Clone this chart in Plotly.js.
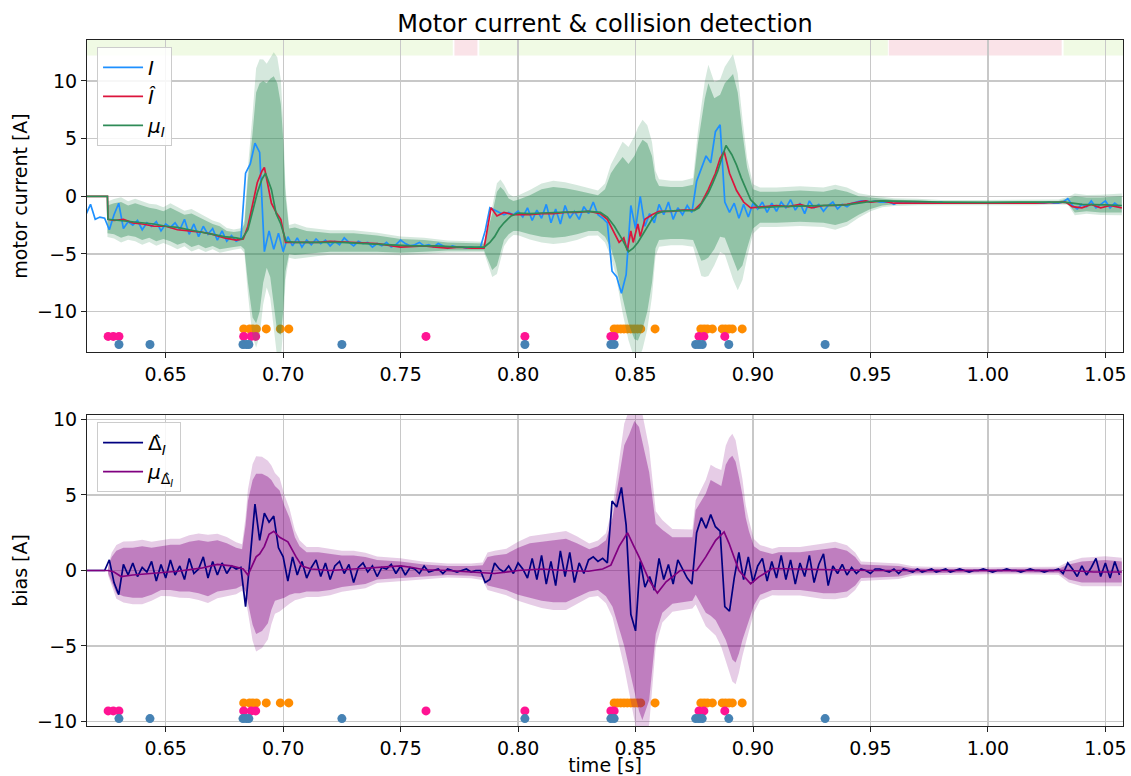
<!DOCTYPE html>
<html><head><meta charset="utf-8">
<script src="https://cdn.plot.ly/plotly-3.0.1.min.js"></script>
<style>html,body{margin:0;padding:0;background:#fff}#chart{width:1131px;height:776px}</style>
</head><body><div id="chart"></div>
<script>
// ---------- sampling of the measured signals (every 2 ms) ----------
const sampleStart = 0.616;
const sampleStep = 0.002;

// measured motor current I [A]
const currentI = [
 -1.6,-0.7,-2.0,-1.8,-1.9,-2.9,-1.6,-0.6,-2.8,-2.2,
 -2.5,-2.1,-2.9,-2.3,-2.6,-2.2,-3.0,-2.4,-2.7,-2.3,
 -2.9,-2.0,-3.3,-2.4,-3.5,-2.6,-3.3,-2.8,-3.8,-3.0,
 -3.9,-3.4,-3.9,-3.7,2.0,2.8,4.6,3.8,-4.8,-3.0,
 -4.6,-3.2,-4.8,-3.5,-4.3,-3.6,-4.4,-3.8,-4.2,-3.7,
 -4.1,-3.8,-4.3,-3.9,-4.2,-3.6,-4.0,-4.3,-3.9,-4.1,
 -4.0,-4.4,-4.1,-4.3,-4.0,-4.4,-4.2,-3.8,-4.1,-4.3,
 -4.2,-4.0,-4.3,-4.2,-4.4,-4.1,-4.3,-4.5,-4.3,-4.4,
 -4.4,-4.5,-4.4,-4.5,-4.4,-3.0,-1.0,-1.2,-1.4,-1.6,
 -1.4,-1.6,-1.3,-1.8,-1.0,-2.1,-1.2,-1.9,-0.7,-2.3,
 -1.1,-2.4,-0.8,-1.9,-1.3,-2.0,-0.9,-1.5,-0.5,-1.6,
 -1.9,-2.3,-6.5,-7.0,-8.4,-6.8,-0.8,-2.8,0.0,-2.6,
 -1.5,-2.3,-0.7,-1.6,-0.5,-2.0,-1.0,-1.6,-0.8,-1.4,
 1.3,2.5,3.5,2.9,5.6,6.2,-0.5,-1.4,-0.6,-1.9,
 -0.7,-1.8,-0.6,-1.1,-0.5,-1.4,-0.6,-1.3,-0.5,-1.0,
 -0.3,-1.2,-0.6,-1.5,-0.4,-1.0,-0.7,-1.3,-0.8,-0.5,
 -1.1,-0.7,-0.9,-0.6,-0.5,-0.4,-0.4,-0.5,-0.4,-0.5,
 -0.5,-0.5,-0.7,-0.5,-0.6,-0.5,-0.6,-0.5,-0.6,-0.5,
 -0.6,-0.6,-0.5,-0.6,-0.6,-0.6,-0.6,-0.6,-0.6,-0.6,
 -0.6,-0.6,-0.6,-0.6,-0.6,-0.6,-0.6,-0.6,-0.6,-0.6,
 -0.6,-0.6,-0.6,-0.6,-0.6,-0.5,-0.6,-0.6,-0.5,-0.2,
 -0.8,-1.1,-0.7,-0.9,-0.4,-1.0,-0.7,-0.4,-1.0,-0.6,-0.9
];

// estimated bias Delta_I [A]
const biasDelta = [
 0,0,0,0,0,0.7,-0.8,-1.6,0.4,-0.3,
 0.5,-0.4,0.2,-0.1,0.6,-0.7,0.4,-0.5,0.7,-0.3,
 0.3,-0.6,0.8,-0.2,0.1,0.9,-0.5,0.6,-0.3,0.5,
 -0.2,0.3,0.1,0.2,-2.4,0.9,4.4,2.0,3.8,3.2,
 3.6,1.5,0.9,-0.7,0.9,-0.3,0.6,-0.5,0.2,0.7,
 -0.4,0.5,-0.6,0.3,0.6,-0.2,0.4,-0.8,0.2,0.5,
 -0.1,0.3,-0.4,0.2,0.1,0.4,-0.2,0.3,-0.3,0.2,
 0.1,-0.2,0.3,-0.1,0.0,0.1,-0.2,0.1,0.0,-0.1,
 0.0,0.1,-0.1,0.0,0.0,-0.8,-0.6,0.5,0.1,-0.1,
 0.3,-0.2,0.5,0.1,-0.5,0.8,-0.6,1.0,-0.9,0.6,
 -1.0,1.3,-0.4,1.2,-0.8,0.5,-0.2,0.7,0.9,0.6,
 0.8,0.5,4.6,4.2,5.5,3.0,-2.9,-4.0,0.6,-1.1,
 -0.4,-1.3,0.8,-0.6,0.4,-0.9,0.7,0.1,-0.5,-0.9,
 2.5,3.5,2.8,3.7,2.9,2.6,-2.4,-2.7,-0.5,1.2,
 -0.6,0.9,-0.8,0.3,0.8,-0.7,0.6,-0.5,1.0,-0.6,
 0.7,-0.9,0.5,-0.4,1.0,-0.8,0.4,1.1,-1.0,0.3,
 -0.2,0.4,-0.3,0.2,-0.2,0.1,0.0,-0.2,0.1,0.1,
 0.0,-0.1,0.1,-0.2,0.1,0.0,-0.1,0.1,-0.1,0.0,
 0.1,-0.1,0.0,0.1,-0.1,0.0,0.1,0.0,-0.1,0.0,
 0.0,0.1,0.0,-0.1,0.0,0.0,0.1,0.0,0.0,-0.1,
 0.0,0.1,0.0,0.0,-0.1,0.0,0.0,0.1,-0.2,0.5,
 0.1,-0.4,0.3,-0.3,0.2,0.8,-0.4,0.5,-0.5,0.6,-0.3
];

// estimated current I-hat
const tHat = [0.6165,0.6252,0.6254,0.628,0.632,0.636,0.640,0.645,0.650,0.655,0.660,0.665,0.670,0.675,0.680,0.683,0.685,0.687,0.689,0.691,0.692,0.693,0.695,0.697,0.699,0.701,0.705,0.710,0.715,0.720,0.730,0.740,0.750,0.760,0.765,0.770,0.775,0.780,0.7855,0.7885,0.791,0.794,0.798,0.805,0.810,0.815,0.820,0.825,0.830,0.835,0.838,0.841,0.843,0.845,0.8465,0.848,0.849,0.851,0.852,0.854,0.857,0.860,0.865,0.870,0.875,0.878,0.881,0.884,0.886,0.8877,0.890,0.893,0.896,0.899,0.905,0.910,0.915,0.920,0.925,0.930,0.935,0.940,0.945,0.948,0.950,0.955,0.960,0.970,0.980,0.990,1.000,1.010,1.020,1.033,1.036,1.040,1.044,1.048,1.052,1.057];
const currentHat = [0,0,-2.0,-2.1,-2.0,-2.3,-2.4,-2.6,-2.6,-2.9,-3.0,-3.1,-3.3,-3.6,-3.8,-3.7,-2.6,-0.6,1.2,2.2,2.5,1.5,-0.6,-1.4,-2.0,-4.0,-4.0,-4.0,-4.0,-3.9,-4.0,-4.1,-4.4,-4.3,-4.4,-4.5,-4.4,-4.5,-4.5,-1.0,-1.7,-1.4,-1.6,-1.6,-1.5,-1.5,-1.4,-1.4,-1.3,-1.5,-2.0,-3.2,-4.0,-3.6,-4.7,-3.0,-4.0,-2.4,-3.5,-2.0,-1.6,-1.3,-1.3,-1.2,-1.2,-0.6,0.6,2.0,3.3,3.9,2.0,0.5,-0.5,-1.0,-0.9,-0.8,-0.9,-0.7,-1.0,-0.8,-0.8,-0.7,-0.5,-0.4,-0.5,-0.4,-0.6,-0.6,-0.6,-0.6,-0.6,-0.6,-0.6,-0.5,-0.9,-1.0,-0.7,-1.0,-0.8,-1.0];

// predicted mean mu_I
const tMuI = [0.6165,0.6252,0.6254,0.630,0.635,0.640,0.645,0.650,0.655,0.660,0.665,0.670,0.675,0.680,0.6825,0.685,0.687,0.689,0.691,0.6925,0.695,0.697,0.699,0.7012,0.705,0.715,0.725,0.735,0.745,0.755,0.765,0.775,0.7856,0.788,0.790,0.792,0.794,0.797,0.800,0.805,0.810,0.815,0.820,0.825,0.830,0.835,0.838,0.841,0.8445,0.847,0.849,0.851,0.853,0.855,0.857,0.859,0.862,0.868,0.8749,0.877,0.879,0.881,0.883,0.885,0.887,0.8885,0.891,0.893,0.895,0.897,0.899,0.9025,0.910,0.920,0.930,0.940,0.945,0.950,0.955,0.965,0.980,1.000,1.020,1.032,1.036,1.040,1.050,1.057];
const muI = [0,0,-2.0,-2.1,-2.2,-2.3,-2.4,-2.6,-2.7,-2.9,-3.1,-3.3,-3.5,-3.6,-3.7,-2.9,-1.4,0.3,1.5,2.0,0.6,-1.5,-2.4,-3.9,-4.0,-4.0,-4.0,-4.1,-4.2,-4.3,-4.3,-4.4,-4.4,-4.0,-3.5,-2.8,-2.3,-1.7,-1.45,-1.5,-1.45,-1.4,-1.35,-1.3,-1.3,-1.4,-1.8,-2.6,-3.8,-4.8,-4.5,-4.0,-3.3,-2.6,-2.0,-1.5,-1.3,-1.25,-1.25,-1.0,-0.4,0.3,1.2,2.2,3.5,4.4,3.6,2.7,1.6,0.6,-0.3,-1.0,-0.9,-0.85,-0.8,-0.75,-0.6,-0.45,-0.4,-0.45,-0.5,-0.52,-0.52,-0.5,-0.6,-0.7,-0.75,-0.8];

// confidence band of mu_I
const tBandI = [0.6252,0.628,0.631,0.634,0.637,0.640,0.643,0.646,0.649,0.652,0.655,0.658,0.661,0.664,0.667,0.670,0.673,0.676,0.679,0.682,0.6835,0.685,0.687,0.6885,0.690,0.6915,0.693,0.6945,0.696,0.6975,0.699,0.700,0.701,0.7025,0.705,0.710,0.715,0.720,0.730,0.740,0.750,0.760,0.770,0.780,0.7855,0.787,0.789,0.791,0.7925,0.794,0.796,0.798,0.800,0.805,0.810,0.815,0.820,0.825,0.830,0.834,0.837,0.8395,0.8415,0.8445,0.847,0.8495,0.851,0.853,0.855,0.857,0.8585,0.860,0.865,0.870,0.8745,0.8765,0.878,0.8795,0.881,0.8835,0.886,0.888,0.8915,0.8935,0.8955,0.8975,0.900,0.903,0.910,0.920,0.930,0.935,0.940,0.945,0.950,0.955,0.960,0.970,0.980,1.000,1.020,1.030,1.034,1.037,1.042,1.048,1.057];
const bandILo = [-3.2,-3.3,-3.6,-3.4,-3.5,-3.8,-3.6,-3.9,-3.7,-3.9,-4.2,-4.0,-4.4,-4.2,-4.5,-4.3,-4.6,-4.5,-4.4,-4.3,-4.6,-7.5,-10.5,-11.0,-10.0,-7.5,-6.2,-7.0,-9.5,-11.8,-12.0,-10.0,-6.5,-5.0,-5.1,-5.0,-4.9,-4.8,-4.8,-4.8,-4.9,-4.8,-4.7,-4.7,-4.7,-5.5,-6.4,-6.0,-4.8,-3.8,-3.3,-3.0,-3.0,-3.3,-3.5,-3.6,-3.5,-3.3,-3.0,-3.0,-3.5,-4.5,-5.8,-8.8,-11.0,-12.4,-12.5,-11.5,-10.0,-7.5,-4.5,-3.8,-3.7,-3.7,-3.8,-4.8,-5.6,-5.5,-5.3,-4.6,-3.5,-3.6,-5.5,-6.5,-6.0,-4.5,-2.8,-2.3,-2.3,-2.2,-2.3,-2.5,-2.2,-1.6,-1.1,-0.8,-0.7,-0.65,-0.65,-0.65,-0.65,-0.6,-0.6,-1.4,-1.3,-1.4,-1.4];
const bandIHi = [-0.8,-0.6,-0.5,-0.8,-0.6,-0.8,-1.0,-1.1,-1.3,-1.0,-1.3,-1.6,-1.5,-1.8,-2.1,-2.4,-2.6,-3.0,-3.1,-3.0,-2.4,1.5,5.5,9.0,9.8,10.0,9.8,10.2,10.4,9.8,8.0,5.0,0.0,-2.8,-2.7,-3.0,-3.1,-3.2,-3.2,-3.4,-3.7,-3.8,-4.0,-4.1,-4.1,-3.0,-1.5,0.4,0.8,0.5,-0.2,-0.4,-0.3,0.1,0.6,0.8,0.7,0.5,0.3,0.1,0.6,2.0,2.6,3.4,2.8,3.5,4.2,4.9,4.6,3.5,1.5,0.9,0.8,0.8,1.0,4.5,6.5,8.5,9.8,8.5,8.8,9.8,10.6,9.0,5.5,2.5,0.6,0.4,0.4,0.5,0.4,0.6,0.4,0.0,-0.1,-0.2,-0.3,-0.35,-0.45,-0.45,-0.45,-0.4,-0.2,0.0,-0.1,-0.1,0.0];

// predicted mean of the bias
const tMuD = [0.6165,0.6255,0.628,0.631,0.636,0.645,0.655,0.665,0.672,0.678,0.683,0.685,0.687,0.6885,0.690,0.692,0.694,0.696,0.6985,0.701,0.702,0.7055,0.708,0.712,0.720,0.730,0.740,0.750,0.755,0.760,0.770,0.780,0.785,0.790,0.800,0.810,0.820,0.830,0.836,0.8395,0.843,0.8466,0.849,0.8515,0.8558,0.8593,0.863,0.869,0.876,0.8799,0.8841,0.8877,0.8898,0.894,0.899,0.9025,0.9082,0.920,0.930,0.950,1.000,1.035,1.045,1.057];
const muD = [0,0,-0.1,-0.4,-0.3,-0.2,-0.05,0.15,0.4,0.3,0.1,-0.3,0.4,0.9,1.1,1.6,2.4,2.6,2.2,2.0,1.9,0.9,0.3,0.1,0.0,0.1,0.2,0.3,0.2,0.05,0.0,-0.1,-0.15,-0.2,0.0,0.1,0.0,-0.05,0.1,0.35,1.6,2.5,1.7,0.9,-0.65,-1.5,-0.75,0.0,0.0,0.9,2.0,2.55,1.8,0.0,-0.88,-0.42,0.13,0.1,0.05,0.0,0.0,0.0,-0.1,-0.1];

// confidence band of the bias
const tBandD = [0.6255,0.627,0.629,0.632,0.636,0.640,0.644,0.648,0.652,0.656,0.660,0.664,0.668,0.672,0.676,0.680,0.6825,0.684,0.685,0.687,0.6885,0.691,0.6935,0.695,0.6965,0.6985,0.7005,0.7027,0.705,0.707,0.710,0.715,0.720,0.725,0.730,0.735,0.740,0.750,0.760,0.770,0.780,0.7849,0.787,0.790,0.795,0.800,0.805,0.810,0.815,0.8204,0.825,0.8303,0.834,0.8374,0.8402,0.8437,0.8452,0.8473,0.8495,0.8515,0.8529,0.8558,0.8586,0.8614,0.8657,0.8742,0.8756,0.8799,0.882,0.8841,0.8865,0.8884,0.8898,0.8912,0.8926,0.894,0.8955,0.8969,0.8983,0.9004,0.903,0.9082,0.911,0.920,0.925,0.930,0.935,0.940,0.9435,0.946,0.953,0.962,0.968,0.975,1.000,1.030,1.0344,1.040,1.050,1.057];
const bandDLo = [-0.2,-0.8,-1.5,-1.7,-1.8,-1.8,-1.6,-1.3,-1.3,-1.4,-1.4,-1.5,-1.7,-1.4,-1.3,-1.2,-1.0,-1.4,-2.0,-3.6,-4.2,-4.0,-3.5,-2.6,-2.0,-1.9,-1.8,-1.6,-1.5,-1.5,-1.4,-1.4,-1.3,-1.1,-1.0,-0.9,-0.6,-0.5,-0.4,-0.3,-0.35,-0.45,-1.0,-1.1,-1.3,-1.6,-1.8,-2.0,-2.1,-2.1,-1.8,-1.4,-1.3,-1.7,-2.4,-4.2,-5.0,-6.4,-8.0,-9.3,-9.9,-8.6,-4.2,-2.8,-2.2,-2.0,-1.6,-2.8,-3.0,-3.3,-4.0,-4.6,-5.3,-5.9,-6.1,-5.5,-4.6,-3.9,-3.3,-2.3,-1.6,-1.3,-1.3,-1.3,-1.4,-1.5,-1.5,-1.4,-1.0,-0.5,-0.45,-0.4,-0.2,-0.15,-0.12,-0.15,-0.6,-0.8,-0.8,-0.8];
const bandDHi = [0.2,0.9,1.3,1.5,1.5,1.6,1.5,1.6,1.7,1.7,1.9,2.0,1.9,2.0,1.8,1.5,1.4,3.0,4.6,6.0,6.4,6.4,6.2,6.0,5.6,5.3,4.3,3.5,2.2,1.6,1.2,1.2,1.1,1.0,1.0,0.9,0.7,0.6,0.4,0.3,0.3,0.35,0.9,1.0,1.1,1.5,1.8,1.9,2.0,2.1,1.8,1.4,1.6,2.0,3.5,7.0,8.3,9.0,9.9,9.5,8.5,6.5,3.1,2.7,2.2,2.2,4.0,5.1,6.0,5.8,5.6,7.0,7.4,7.6,7.2,6.2,5.0,3.5,2.6,1.6,1.3,1.1,1.2,1.2,1.3,1.4,1.5,1.3,0.9,0.4,0.35,0.3,0.15,0.12,0.1,0.12,0.4,0.6,0.7,0.6];

// collision detector firings (times in s)
const alarmOrangeT = [0.6832,0.6857,0.6871,0.6886,0.6928,0.6988,0.7024,0.8409,0.8423,0.8437,0.8451,0.8465,0.8480,0.8494,0.8508,0.8522,0.8583,0.8778,0.8792,0.8806,0.8827,0.8869,0.8883,0.8898,0.8912,0.8954];
const alarmPinkT = [0.6255,0.6277,0.6301,0.6832,0.6864,0.6883,0.7608,0.8029,0.8395,0.8409,0.8770,0.8791,0.8880];
const alarmBlueT = [0.6301,0.6433,0.6829,0.6843,0.6854,0.7250,0.8029,0.8395,0.8409,0.8756,0.8770,0.8784,0.8897,0.9307];
const alarmLevelTop = {orange:-11.5, pink:-12.15, blue:-12.85};
const alarmLevelBottom = {orange:-8.77, pink:-9.3, blue:-9.81};

// contact state bar along the top of the first panel
const stateStart = [0.6165,0.7729,0.7835,0.9578,1.0322];
const stateEnd   = [0.7722,0.7827,0.9574,1.0314,1.0575];
const stateKind  = ['free','contact','free','contact','free'];

const xTicks = [0.65,0.70,0.75,0.80,0.85,0.90,0.95,1.00,1.05];
const yTicksTop = [-10,-5,0,5,10];
const yTicksBottom = [-10,-5,0,5,10];

// ---------- figure ----------
const HALO = 1.2, HALO_PAD = 0.1;
function bandPoly(t, lo, hi, k, pad){
  const x = [], y = [];
  for (let i=0;i<t.length;i++){ const m=(hi[i]+lo[i])/2, h=(hi[i]-lo[i])/2*k+pad; x.push(t[i]); y.push(m+h); }
  for (let i=t.length-1;i>=0;i--){ const m=(hi[i]+lo[i])/2, h=(hi[i]-lo[i])/2*k+pad; x.push(t[i]); y.push(m-h); }
  return {x, y};
}
function band(t, lo, hi, k, pad, color, xa, ya){
  const p = bandPoly(t, lo, hi, k, pad);
  return {x:p.x, y:p.y, xaxis:xa, yaxis:ya, mode:'lines', fill:'toself', fillcolor:color,
          line:{width:0}, showlegend:false, hoverinfo:'skip'};
}
function dots(t, level, color, xa, ya){
  return {x:t, y:t.map(()=>level), xaxis:xa, yaxis:ya, mode:'markers', showlegend:false,
          marker:{color:color, size:9, line:{width:0}}, hoverinfo:'skip'};
}
const ORANGE='#ff8c00', PINK='#ff1493', BLUE='#4682b4';
const traces = [
  dots(alarmOrangeT, alarmLevelTop.orange, ORANGE, 'x', 'y'),
  dots(alarmPinkT, alarmLevelTop.pink, PINK, 'x', 'y'),
  dots(alarmBlueT, alarmLevelTop.blue, BLUE, 'x', 'y'),
  band(tBandI, bandILo, bandIHi, HALO, HALO_PAD, 'rgba(46,139,87,0.2)', 'x', 'y'),
  band(tBandI, bandILo, bandIHi, 1, 0, 'rgba(46,139,87,0.4)', 'x', 'y'),
  {x0:sampleStart, dx:sampleStep, y:currentI, xaxis:'x', yaxis:'y', mode:'lines', name:'<i>I</i>',
   line:{color:'#1e90ff', width:1.7}, legend:'legend'},
  {x:tHat, y:currentHat, xaxis:'x', yaxis:'y', mode:'lines', name:'<i>Î</i>',
   line:{color:'#dc143c', width:1.7}, legend:'legend'},
  {x:tMuI, y:muI, xaxis:'x', yaxis:'y', mode:'lines', name:'<i>μ</i><sub><i>I</i></sub>',
   line:{color:'#2e8b57', width:1.7}, legend:'legend'},

  dots(alarmOrangeT, alarmLevelBottom.orange, ORANGE, 'x2', 'y2'),
  dots(alarmPinkT, alarmLevelBottom.pink, PINK, 'x2', 'y2'),
  dots(alarmBlueT, alarmLevelBottom.blue, BLUE, 'x2', 'y2'),
  band(tBandD, bandDLo, bandDHi, HALO, HALO_PAD, 'rgba(128,0,128,0.2)', 'x2', 'y2'),
  band(tBandD, bandDLo, bandDHi, 1, 0, 'rgba(128,0,128,0.38)', 'x2', 'y2'),
  {x0:sampleStart, dx:sampleStep, y:biasDelta, xaxis:'x2', yaxis:'y2', mode:'lines', name:'Δ̂<sub><i>I</i></sub>',
   line:{color:'#000080', width:1.7}, legend:'legend2'},
  {x:tMuD, y:muD, xaxis:'x2', yaxis:'y2', mode:'lines', name:'<i>μ</i><sub>Δ̂<sub><i>I</i></sub></sub>',
   line:{color:'#800080', width:1.7}, legend:'legend2'}
];

const shapes = stateStart.map((s,i)=>({
  type:'rect', xref:'x', yref:'y', x0:s, x1:stateEnd[i], y0:12.2, y1:13.55,
  fillcolor: stateKind[i]==='free' ? '#f0fae4' : '#fae3e8', line:{width:0}, layer:'below'
}));

const FONT = 'DejaVu Sans, sans-serif';
const gridC = '#c8c8c8';
function xax(anchor, title){
  return {anchor:anchor, domain:[0,1], range:[0.6165,1.0575], tickvals:xTicks, tickformat:'.2f',
    showgrid:true, gridcolor:gridC, gridwidth:1.2, zeroline:false, showline:true, linecolor:'#222',
    linewidth:1, mirror:true, ticks:'outside', ticklen:5, tickcolor:'#222', tickfont:{size:19},
    title: title ? {text:title, font:{size:19}, standoff:7} : undefined};
}
function yax(anchor, domain, range, ticks, title){
  return {anchor:anchor, domain:domain, range:range, tickvals:ticks,
    showgrid:true, gridcolor:gridC, gridwidth:1.2, zeroline:false, showline:true, linecolor:'#222',
    linewidth:1, mirror:true, ticks:'outside', ticklen:5, tickcolor:'#222', tickfont:{size:19},
    title:{text:title, font:{size:19}, standoff:4}};
}
const legendStyle = {xanchor:'left', yanchor:'top', bgcolor:'rgba(255,255,255,0.85)', bordercolor:'#cccccc',
  borderwidth:1, font:{size:20, family:FONT}, tracegroupgap:0, itemwidth:40};
const layout = {
  width:1131, height:776, paper_bgcolor:'#fff', plot_bgcolor:'#fff',
  font:{family:FONT, size:19, color:'#000'},
  margin:{l:87, r:8, t:40, b:50},
  title:{text:'Motor current &amp; collision detection', font:{size:24}, xref:'paper', x:0.5, xanchor:'center', yref:'container', y:0.969, yanchor:'middle'},
  xaxis: xax('y', null),
  yaxis: yax('x', [0.5452,1], [-13.5,13.55], yTicksTop, 'motor current [A]'),
  xaxis2: xax('y2', 'time [s]'),
  yaxis2: yax('x2', [0,0.4534], [-10.3,10.3], yTicksBottom, 'bias [A]'),
  legend: Object.assign({x:0.0097, y:0.99}, legendStyle),
  legend2: Object.assign({x:0.0097, y:0.443}, legendStyle),
  shapes: shapes,
  hovermode:false, showlegend:true
};
Plotly.newPlot('chart', traces, layout, {staticPlot:true, displayModeBar:false});
</script></body></html>
